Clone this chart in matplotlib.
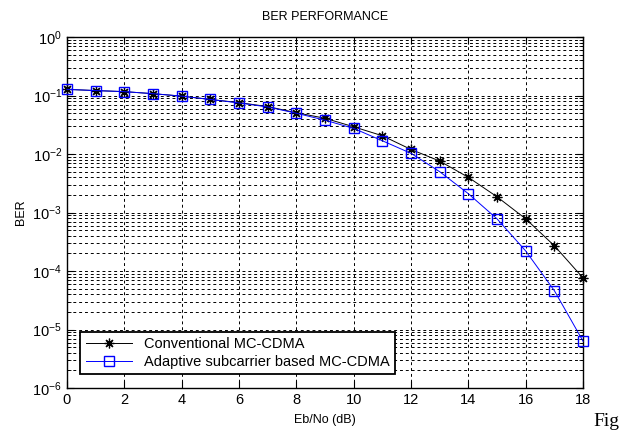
import matplotlib
matplotlib.use("Agg")
import matplotlib.pyplot as plt
from matplotlib.ticker import LogLocator, NullFormatter

plt.rcParams["font.family"] = ["Liberation Sans", "DejaVu Sans"]

# Eb/No (dB) and BER
ebno = [0, 1, 2, 3, 4, 5, 6, 7, 8, 9, 10, 11, 12, 13, 14, 15, 16, 17, 18]
ber_conv = [0.128, 0.122, 0.117, 0.108, 0.098, 0.086, 0.076, 0.065, 0.051,
            0.041, 0.0293, 0.0206, 0.0120, 0.0076, 0.0040, 0.00186, 0.00078,
            0.00027, 7.6e-5]
ber_adapt = [0.128, 0.122, 0.117, 0.108, 0.098, 0.086, 0.075, 0.064, 0.050,
             0.038, 0.0275, 0.0169, 0.0103, 0.0050, 0.0021, 0.00078, 0.00022,
             4.6e-5, 6.3e-6]
x_ticks = list(range(0, 19, 2))
legend_labels = ["Conventional MC-CDMA", "Adaptive subcarrier based MC-CDMA"]

fig = plt.figure(figsize=(6.23, 4.37), dpi=100)
ax = fig.add_axes([0.1075, 0.112, 0.8285, 0.803])

ax.semilogy(ebno, ber_conv, color="black", linewidth=0.7, marker=(8, 2, 0),
            markersize=7, markeredgewidth=0.9, label=legend_labels[0],
            clip_on=False, zorder=3)
ax.semilogy(ebno, ber_adapt, color="blue", linewidth=0.7, marker="s",
            markersize=7, markerfacecolor="none", markeredgewidth=1.0,
            label=legend_labels[1], clip_on=False, zorder=3)

ax.set_xlim(0, 18)
ax.set_ylim(1e-6, 1)
ax.set_xticks(x_ticks)
ax.yaxis.set_major_locator(LogLocator(base=10, numticks=10))
ax.yaxis.set_minor_locator(LogLocator(base=10, subs=range(2, 10), numticks=20))
ax.yaxis.set_minor_formatter(NullFormatter())

ax.grid(True, which="major", color="black", linestyle=(0, (3, 3)), linewidth=0.7)
ax.grid(True, which="minor", axis="y", color="black", linestyle=(0, (3, 3)),
        linewidth=0.7)
ax.tick_params(which="both", direction="in", top=True, right=True,
               labelsize=10.5)
ax.tick_params(which="major", length=5)
ax.tick_params(which="minor", length=3)
for s in ax.spines.values():
    s.set_linewidth(1.0)

ax.set_title("BER PERFORMANCE", fontsize=9, pad=12)
ax.set_xlabel("Eb/No (dB)", fontsize=9, labelpad=5)
ax.set_ylabel("BER", fontsize=9, labelpad=4)

leg = ax.legend(loc="lower left", bbox_to_anchor=(0.012, 0.018), fontsize=10.5,
                frameon=True, fancybox=False, framealpha=1, edgecolor="black",
                borderpad=0.35, handlelength=3.2, labelspacing=0.3,
                shadow=False)
leg.get_frame().set_linewidth(1.3)

fig.text(0.952, 0.015, "Fig", fontsize=14, family="Liberation Serif",
         ha="left", va="bottom")

fig.savefig("out.png", dpi=100)
